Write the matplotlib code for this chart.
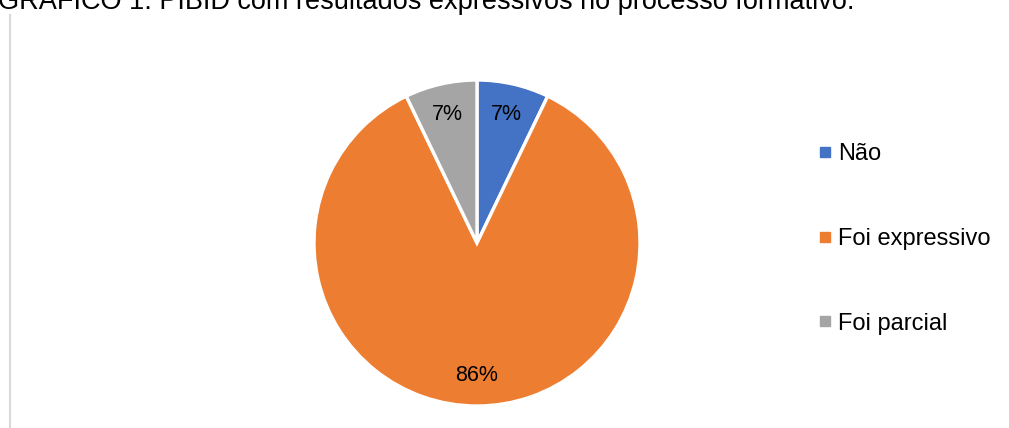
import matplotlib.pyplot as plt
from matplotlib.lines import Line2D

plt.rcParams['font.family'] = ['Liberation Sans', 'DejaVu Sans']

labels = ["Não", "Foi expressivo", "Foi parcial"]
values = [1, 12, 1]
colors = ["#4472C4", "#ED7D31", "#A5A5A5"]
title = "GRÁFICO 1: PIBID com resultados expressivos no processo formativo."

W, H = 1009, 428
fig = plt.figure(figsize=(W / 100, H / 100), dpi=100)

# pie area (pixel box converted to figure fractions)
ax = fig.add_axes([314 / W, (H - 406) / H, 326 / W, 326 / H])
wedges, texts, autotexts = ax.pie(
    values, colors=colors, startangle=90, counterclock=False,
    autopct=lambda p: f"{p:.0f}%", pctdistance=0.81,
    wedgeprops=dict(edgecolor="white", linewidth=2.4),
    textprops=dict(fontsize=15.5, color="#000000"))
ax.set_xlim(-1, 1)
ax.set_ylim(-1, 1)
ax.set_aspect("equal")

# left border line of the frame
fig.add_artist(Line2D([10 / W, 10 / W], [0, (H - 15) / H], color="#d9d9d9", lw=1.5))

# title, cut off at the top edge
fig.text(-0.002, 1 - 9 / H, title, fontsize=19.5, va="baseline", ha="left", color="#000000")

handles = [Line2D([], [], marker="s", ls="", markersize=6.5, color=c) for c in colors]
fig.legend(handles, labels, loc="center left", bbox_to_anchor=(792 / W, 1 - 239 / H),
           frameon=False, fontsize=17, labelspacing=2.65, handletextpad=0.05,
           handlelength=1.0)

fig.savefig("out.png", dpi=100)
